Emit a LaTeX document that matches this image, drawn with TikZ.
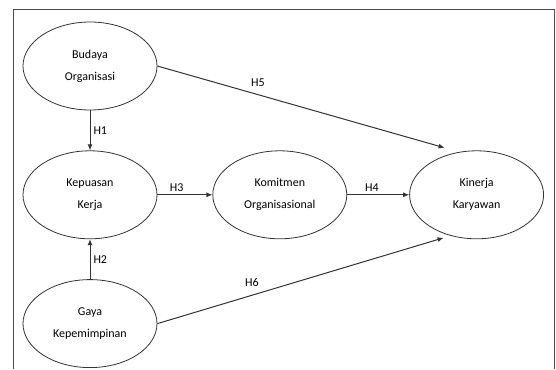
\documentclass[tikz,border=0pt]{standalone}
\usepackage{fontspec}
\setmainfont{Carlito}
\usetikzlibrary{positioning,arrows.meta,shapes.geometric}

\begin{document}
\begin{tikzpicture}[
x=1pt,y=1pt,
node distance=40pt and 55pt,
var/.style={
draw,
ellipse,
line width=0.8pt,
draw=black!80,
minimum width=134pt,
minimum height=88pt,
inner sep=0pt,
align=center,
font=\fontsize{12}{22}\selectfont
},
hyp/.style={
font=\fontsize{12}{14}\selectfont,
inner sep=3pt
},
link/.style={
-{Latex[length=6pt,width=5pt]},
line width=1pt,
draw=black!80
}
]

\useasboundingbox (0,0) rectangle (556,-369);

% frame
\draw[line width=0.8pt,black!70] (13,-369) -- (13,-9) -- (554,-9) -- (554,-369);

\node[var] (budaya) at (90,-66) {Budaya\\Organisasi};

\node[var] (kepuasan)[below=of budaya] {Kepuasan\\Kerja};

\node[var] (gaya)[below=of kepuasan] {Gaya\\Kepemimpinan};

\node[var] (komitmen)[right=of kepuasan] {Komitmen\\Organisasional};

\node[var] (kinerja)[right=62pt of komitmen] {Kinerja\\Karyawan};

\coordinate (t5) at ([xshift=-32pt,yshift=47pt]kinerja.center);
\coordinate (t6) at ([xshift=-33pt,yshift=-43pt]kinerja.center);

\draw[link](budaya)--node[hyp,right]{H1}(kepuasan);
\draw[link](gaya)--node[hyp,right]{H2}(kepuasan);
\draw[link](kepuasan)--node[hyp,above,pos=0.35]{H3}(komitmen);
\draw[link](komitmen)--node[hyp,above,pos=0.4]{H4}(kinerja);
\draw[link](budaya.east)--node[hyp,above,pos=0.35,yshift=5pt]{H5}(t5);
\draw[link](gaya.east)--node[hyp,above,pos=0.33,yshift=5pt]{H6}(t6);

\end{tikzpicture}
\end{document}
